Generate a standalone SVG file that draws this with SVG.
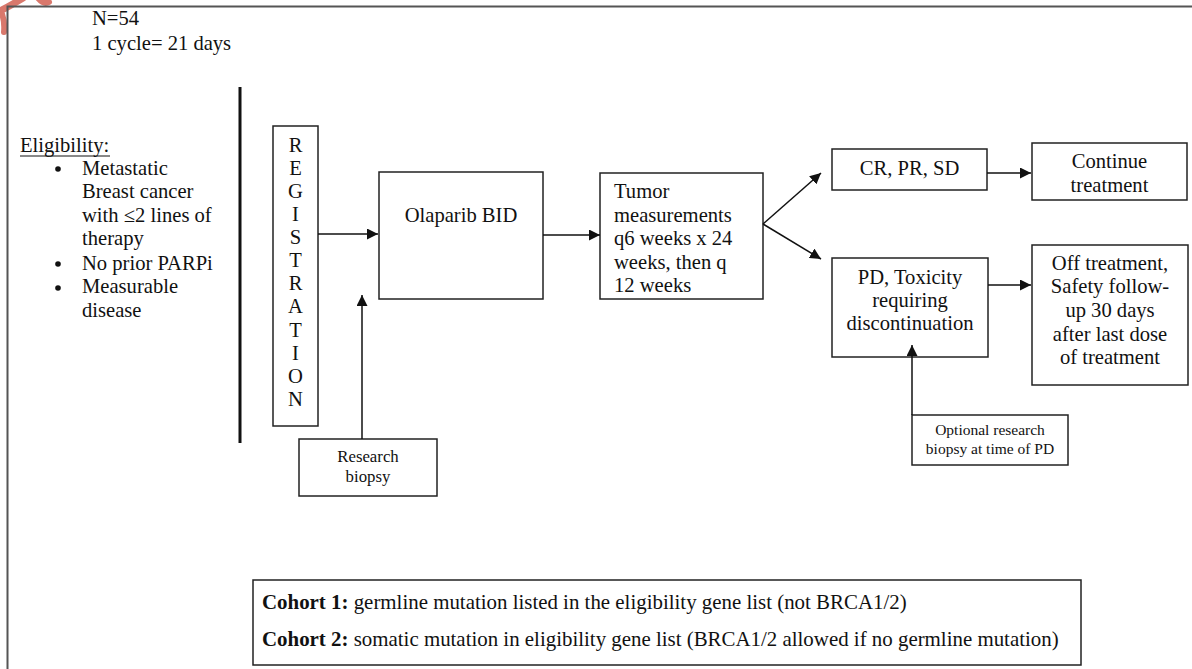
<svg xmlns="http://www.w3.org/2000/svg" width="1192" height="669" viewBox="0 0 1192 669">
  <style>
    text { font-family: "Liberation Serif", "Times New Roman", serif; font-size: 20.6px; fill: #111; }
    .box { fill: #fff; stroke: #222; stroke-width: 1.5; }
    .small { font-size: 16.8px; }
    .tiny { font-size: 15.5px; }
    .cohort { font-size: 20.9px; }
    .mid { text-anchor: middle; }
    .b { font-weight: bold; }
    .conn line { stroke: #111; stroke-width: 1.5; marker-end: url(#arrow); }
  </style>
  <defs>
    <marker id="arrow" viewBox="0 0 10 10" refX="10" refY="5" markerWidth="11" markerHeight="11" markerUnits="userSpaceOnUse" orient="auto">
      <path d="M0,0 L10,5 L0,10 z" fill="#111"/>
    </marker>
  </defs>

  <rect width="1192" height="669" fill="#fff"/>

  <!-- corner logo fragment -->
  <g id="logo" fill="none" stroke="#d9786c" stroke-linecap="round">
    <path d="M-2,12 Q10,6 23,-2" stroke-width="7"/>
    <path d="M2,14 Q5,22 4,32" stroke-width="6"/>
    <path d="M38,-2 Q44,5 49,2" stroke-width="6"/>
  </g>

  <!-- page frame -->
  <path d="M7.5,670 L7.5,6.5 L1193,6.5" fill="none" stroke="#555" stroke-width="2"/>

  <g id="header">
    <text x="92" y="25">N=54</text>
    <text x="92" y="50">1 cycle= 21 days</text>
  </g>

  <g id="eligibility">
    <text x="20" y="152">Eligibility:</text>
    <line x1="20" y1="156" x2="110" y2="156" stroke="#111" stroke-width="1"/>
    <circle cx="58" cy="169" r="2.8" fill="#111"/>
    <circle cx="58" cy="264" r="2.8" fill="#111"/>
    <circle cx="58" cy="288" r="2.8" fill="#111"/>
    <text x="82" y="175">Metastatic</text>
    <text x="82" y="198">Breast cancer</text>
    <text x="82" y="222">with ≤2 lines of</text>
    <text x="82" y="245">therapy</text>
    <text x="82" y="270">No prior PARPi</text>
    <text x="82" y="293">Measurable</text>
    <text x="82" y="317">disease</text>
  </g>

  <!-- divider -->
  <line x1="240" y1="87" x2="240" y2="443" stroke="#111" stroke-width="3"/>

  <g id="registration">
    <rect class="box" x="273" y="126" width="45" height="300"/>
    <g class="mid">
      <text x="295.5" y="152">R</text>
      <text x="295.5" y="175">E</text>
      <text x="295.5" y="198">G</text>
      <text x="295.5" y="221">I</text>
      <text x="295.5" y="244">S</text>
      <text x="295.5" y="267">T</text>
      <text x="295.5" y="290">R</text>
      <text x="295.5" y="313">A</text>
      <text x="295.5" y="337">T</text>
      <text x="295.5" y="360">I</text>
      <text x="295.5" y="383">O</text>
      <text x="295.5" y="406">N</text>
    </g>
  </g>

  <g id="olaparib">
    <rect class="box" x="379" y="172" width="164" height="127"/>
    <text class="mid" x="461" y="222">Olaparib BID</text>
  </g>

  <g id="research-biopsy">
    <rect class="box" x="299" y="439" width="138" height="57"/>
    <text class="mid small" x="368" y="462">Research</text>
    <text class="mid small" x="368" y="482">biopsy</text>
  </g>

  <g id="tumor">
    <rect class="box" x="600" y="173" width="163" height="126"/>
    <text x="614" y="198">Tumor</text>
    <text x="614" y="222">measurements</text>
    <text x="614" y="245">q6 weeks x 24</text>
    <text x="614" y="269">weeks, then q</text>
    <text x="614" y="292">12 weeks</text>
  </g>

  <g id="response">
    <rect class="box" x="832" y="149" width="155" height="41"/>
    <text class="mid" x="909.5" y="175">CR, PR, SD</text>
  </g>

  <g id="continue">
    <rect class="box" x="1032" y="143" width="155" height="57"/>
    <text class="mid" x="1109.5" y="168">Continue</text>
    <text class="mid" x="1109.5" y="192">treatment</text>
  </g>

  <g id="progression">
    <rect class="box" x="832" y="258" width="156" height="99"/>
    <text class="mid" x="910" y="284">PD, Toxicity</text>
    <text class="mid" x="910" y="307">requiring</text>
    <text class="mid" x="910" y="330">discontinuation</text>
  </g>

  <g id="off-treatment">
    <rect class="box" x="1032" y="245" width="156" height="140"/>
    <text class="mid" x="1110" y="270">Off treatment,</text>
    <text class="mid" x="1110" y="293">Safety follow-</text>
    <text class="mid" x="1110" y="317">up 30 days</text>
    <text class="mid" x="1110" y="341">after last dose</text>
    <text class="mid" x="1110" y="364">of treatment</text>
  </g>

  <g id="optional-biopsy">
    <rect class="box" x="912" y="415" width="156" height="50"/>
    <text class="mid tiny" x="990" y="435">Optional research</text>
    <text class="mid tiny" x="990" y="454">biopsy at time of PD</text>
  </g>

  <g id="cohorts">
    <rect class="box" x="253" y="580" width="828" height="85"/>
    <text class="cohort" x="262" y="609"><tspan class="b">Cohort 1:</tspan> germline mutation listed in the eligibility gene list (not BRCA1/2)</text>
    <text class="cohort" x="262" y="646"><tspan class="b">Cohort 2:</tspan> somatic mutation in eligibility gene list (BRCA1/2 allowed if no germline mutation)</text>
  </g>

  <g id="connectors" class="conn">
    <line x1="318" y1="234" x2="378" y2="234"/>
    <line x1="362" y1="439" x2="362" y2="295"/>
    <line x1="543" y1="235" x2="600" y2="235"/>
    <line x1="763" y1="224" x2="821" y2="173"/>
    <line x1="763" y1="224" x2="821" y2="259"/>
    <line x1="987" y1="173" x2="1031" y2="173"/>
    <line x1="988" y1="285" x2="1031" y2="285"/>
    <line x1="912" y1="415" x2="912" y2="345"/>
  </g>
</svg>
